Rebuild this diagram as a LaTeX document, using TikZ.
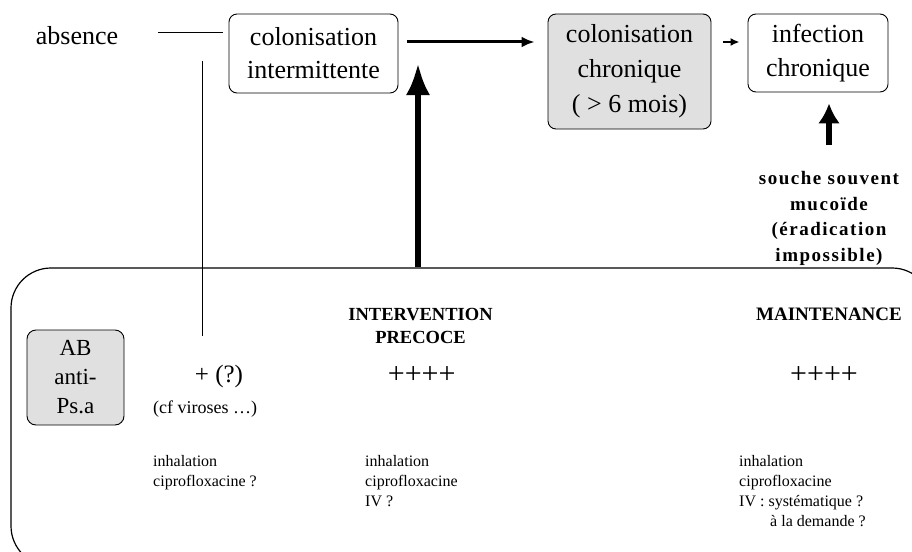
\documentclass[tikz,border=0pt]{standalone}
\usepackage{fontspec}
\setmainfont{Liberation Serif}
\newfontfamily\spacedfont[LetterSpace=8]{Liberation Serif}
\usetikzlibrary{arrows.meta}
\begin{document}
\begin{tikzpicture}[x=1pt,y=-1pt,
  box/.style={draw, line width=0.9pt, rounded corners=8pt, align=center, inner sep=0pt},
  bigfont/.style={font=\fontsize{26}{33}\selectfont},
  lbl/.style={inner sep=0pt, align=left, font=\fontsize{16}{20}\selectfont},
  txt/.style={inner sep=0pt, align=center},
  thinline/.style={line width=0.9pt},
  greyfill/.style={fill=black!12}
]
\useasboundingbox (0,0) rectangle (912,551);
\fill[white] (0,0) rectangle (912,551);
\clip (0,0) rectangle (912,551);

% top row
\node[box, bigfont, minimum width=169pt, minimum height=79pt] (ci) at (313.5,53.5) {colonisation\\intermittente};
\node[box, greyfill, minimum width=163pt, minimum height=115pt, font=\fontsize{26}{35}\selectfont] (cc) at (629.5,71.5) {colonisation\\chronique\\( > 6 mois)};
\node[box, minimum width=140pt, minimum height=78pt, font=\fontsize{26}{34}\selectfont] (ic) at (818,53) {infection\\chronique};
\node[txt, bigfont, anchor=base] (abs) at (77,45) {absence};

\coordinate (a1) at (158,32);
\draw[thinline, shorten >=6pt] (a1) -- (a1 -| ci.west);
\coordinate (v1) at (202,61);
\coordinate (v2) at (202,336);
\draw[thinline] (v1) -- (v2);

\coordinate (h42) at (0,42);
\draw[line width=3pt, -{Latex[length=13pt,width=11pt]}, shorten <=9pt, shorten >=13pt] (ci.east |- h42) -- (cc.west |- h42);
\draw[line width=2pt, -{Latex[length=9pt,width=8pt]}, shorten <=12pt, shorten >=8pt] (cc.east |- h42) -- (ic.west |- h42);

% souche
\node[txt, anchor=base, font=\spacedfont\bfseries\fontsize{19}{25.5}\selectfont] (souche) at (829,261) {souche souvent\\mucoïde\\(éradication\\impossible)};
\coordinate (s1) at (829,145);
\draw[line width=6pt, -{Latex[length=20pt,width=22pt]}, shorten >=11pt] (s1) -- (s1 |- ic.south);

% panel
\node[draw, line width=1.2pt, rounded corners=40pt, minimum width=921pt, minimum height=298pt, inner sep=0pt] (panel) at (471.5,417) {};
\coordinate (tipA) at (418,63);
\draw[line width=6pt, -{Latex[length=32pt,width=24pt]}] (panel.north -| tipA) -- (tipA);

\node[box, greyfill, rounded corners=9pt, minimum width=97pt, minimum height=95pt, font=\fontsize{23}{29}\selectfont] (ab) at (75.5,377.5) {AB\\anti-\\Ps.a};

\node[txt, anchor=base, font=\fontsize{25}{30}\selectfont] (p1) at (219,382) {+ (?)};
\node[txt, anchor=base west, font=\fontsize{18}{22}\selectfont] (cf) at (153,413) {(cf viroses …)};
\node[txt, anchor=base, font=\bfseries\fontsize{18.5}{23}\selectfont] (iv) at (420.5,343) {INTERVENTION\\PRECOCE};
\node[txt, anchor=base, font=\bfseries\fontsize{19}{23}\selectfont] (mt) at (829,320) {MAINTENANCE};
\node[txt, anchor=base, font=\fontsize{30}{30}\selectfont] (p2) at (421.7,383) {++++};
\node[txt, anchor=base, font=\fontsize{30}{30}\selectfont] (p3) at (824,383) {++++};

\node[lbl, anchor=base west] (l1) at (153,486) {inhalation\\ciprofloxacine ?};
\node[lbl, anchor=base west] (l2) at (365,506) {inhalation\\ciprofloxacine\\IV ?};
\node[lbl, anchor=base west] (l3) at (739,526) {inhalation\\ciprofloxacine\\IV : systématique ?\\\hspace*{31pt}à la demande ?};
\end{tikzpicture}
\end{document}
